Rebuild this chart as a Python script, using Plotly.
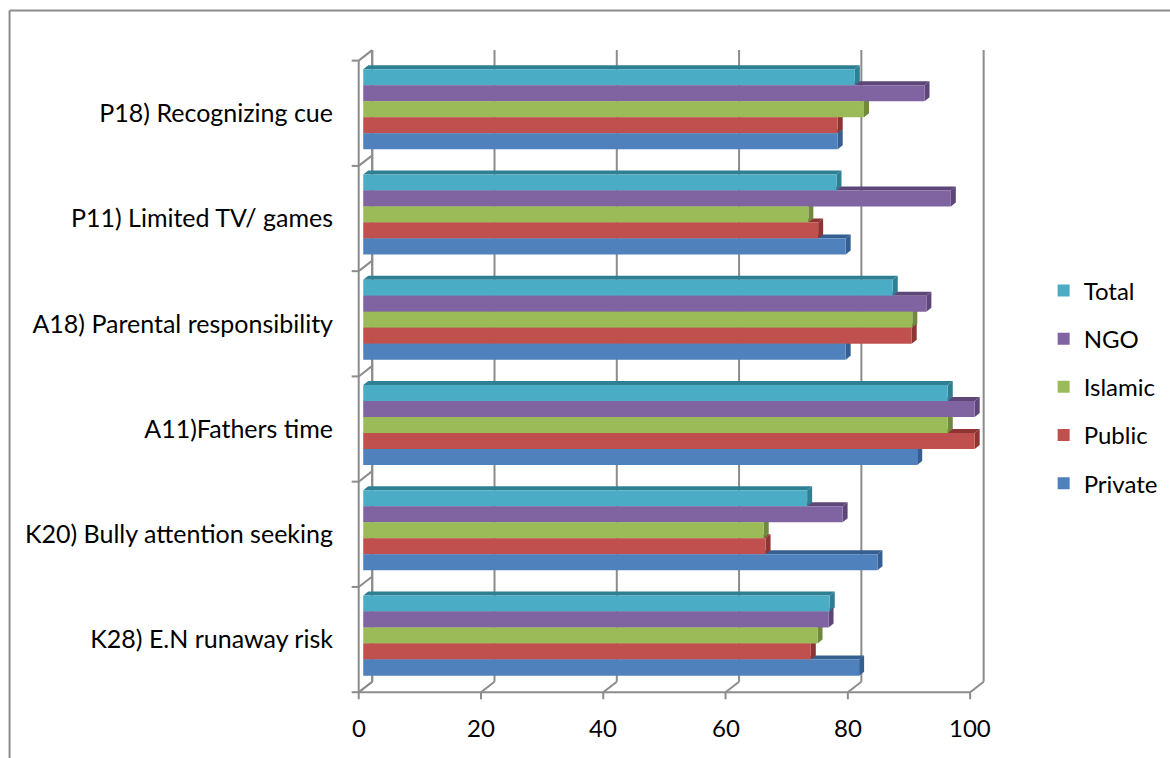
import plotly.graph_objects as go

# ---- data -------------------------------------------------------------
categories = [
    "P18) Recognizing cue",
    "P11) Limited TV/ games",
    "A18) Parental responsibility",
    "A11)Fathers time",
    "K20) Bully attention seeking",
    "K28) E.N runaway risk",
]
total = [80.4, 77.4, 86.6, 95.6, 72.6, 76.3]
ngo = [91.8, 96.1, 92.1, 100.0, 78.4, 76.1]
islamic = [81.9, 72.8, 89.8, 95.6, 65.5, 74.3]
public = [77.6, 74.4, 89.7, 100.0, 65.8, 73.2]
private = [77.6, 78.9, 78.9, 90.6, 84.1, 81.1]
x_ticks = [0, 20, 40, 60, 80, 100]

series_names = ["Total", "NGO", "Islamic", "Public", "Private"]
series_values = [total, ngo, islamic, public, private]
face_colors = ["#4BACC6", "#8064A2", "#9BBB59", "#C0504D", "#4F81BD"]
shade_colors = ["#2F7F93", "#5C4778", "#6F8A3C", "#8E3432", "#355F91"]

# ---- figure geometry ----------------------------------------------------
W, H = 1170, 758
PX0, PXU = 363.0, 6.12      # pixel of x=0 and pixels per value unit
PY0, PYU = 57.0, 105.17     # pixel of the top category edge and pixels per category
X_RANGE = [-2.0, 103.0]
Y_RANGE = [5.65, -0.62]     # reversed: first category on top

ml = PX0 + X_RANGE[0] * PXU
mr = W - (PX0 + X_RANGE[1] * PXU)
mt = PY0 + (Y_RANGE[1] + 0.5) * PYU
mb = H - (PY0 + (Y_RANGE[0] + 0.5) * PYU)
plot_w = W - ml - mr
plot_h = H - mt - mb

BARGAP = 0.239
GROUP_W = 1 - BARGAP
BAR_W = GROUP_W / len(series_names)

# 3-D depth of bars and walls, expressed in axis units
DX, DY = 0.82, 0.038
FDX, FDY = -0.74, 0.038     # front edge of walls
BDX, BDY = 1.47, -0.062     # back edge of walls
TICK_X, TICK_Y = 1.15, 0.067

LINE = dict(color="#8C8C8C", width=2)
FONT = "Lato, 'Open Sans', sans-serif"
FS = 24

fig = go.Figure()
for name, vals, col in zip(series_names, series_values, face_colors):
    fig.add_trace(go.Bar(
        name=name, y=categories, x=vals, orientation="h",
        marker=dict(color=col, line=dict(width=0)),
        legendgroup=name,
    ))

shapes = []


def seg(x0, y0, x1, y1):
    shapes.append(dict(type="line", xref="x", yref="y", x0=x0, y0=y0, x1=x1, y1=y1,
                       line=LINE, layer="below"))


# back wall gridlines
for g in x_ticks:
    seg(g + BDX, -0.5 + BDY, g + BDX, 5.5 + BDY)
# left wall
seg(FDX, -0.5 + FDY, FDX, 5.5 + FDY)
seg(BDX, -0.5 + BDY, BDX, 5.5 + BDY)
for k in range(len(categories) + 1):
    b = k - 0.5
    seg(FDX, b + FDY, BDX, b + BDY)
    seg(FDX - TICK_X, b + FDY, FDX, b + FDY)
# floor
seg(FDX, 5.5 + FDY, x_ticks[-1] + FDX, 5.5 + FDY)
for g in x_ticks:
    seg(g + FDX, 5.5 + FDY, g + BDX, 5.5 + BDY)
    seg(g + FDX, 5.5 + FDY, g + FDX, 5.5 + FDY + TICK_Y)

# bar top faces, then side faces
top_faces, side_faces = [], []
for i, (vals, shade) in enumerate(zip(series_values, shade_colors)):
    off = -GROUP_W / 2 + (i + 0.5) * BAR_W
    for c, v in enumerate(vals):
        yt = c + off - BAR_W / 2
        yb = c + off + BAR_W / 2
        top_faces.append(dict(
            type="path", xref="x", yref="y", layer="below",
            path=f"M0,{yt} L{v},{yt} L{v + DX},{yt - DY} L{DX},{yt - DY} Z",
            fillcolor=shade, line=dict(width=0)))
        side_faces.append(dict(
            type="path", xref="x", yref="y", layer="below",
            path=f"M{v},{yt} L{v + DX},{yt - DY} L{v + DX},{yb - DY} L{v},{yb} Z",
            fillcolor=shade, line=dict(width=0)))
shapes += top_faces + side_faces

# chart border: top and left edges (right and bottom lie beyond the page)
bx0 = (9 - ml) / plot_w
by1 = (H - mb - 11) / plot_h
by0 = (H - mb - H - 5) / plot_h
bx1 = (W + 5 - ml) / plot_w
border = dict(color="#8C8C8C", width=2)
shapes.append(dict(type="line", xref="paper", yref="paper", x0=bx0, x1=bx1, y0=by1, y1=by1,
                   line=border))
shapes.append(dict(type="line", xref="paper", yref="paper", x0=bx0, x1=bx0, y0=by0, y1=by1,
                   line=border))

annotations = []
for g in x_ticks:
    annotations.append(dict(
        x=g + FDX, y=5.5 + FDY, xref="x", yref="y", yshift=-35, text=str(g),
        showarrow=False, font=dict(family=FONT, size=FS, color="#000000"),
        xanchor="center", yanchor="middle"))

fig.update_layout(
    width=W, height=H, autosize=False,
    margin=dict(l=ml, r=mr, t=mt, b=mb, pad=0),
    paper_bgcolor="white", plot_bgcolor="rgba(0,0,0,0)",
    barmode="group", bargap=BARGAP, bargroupgap=0,
    font=dict(family=FONT, size=FS, color="#000000"),
    xaxis=dict(range=X_RANGE, visible=False, fixedrange=True),
    yaxis=dict(range=Y_RANGE, type="category", showgrid=False, zeroline=False,
               showline=False, ticks="", ticklabelstandoff=17, ticklabelshift=-4,
               tickfont=dict(family=FONT, size=25, color="#000000")),
    shapes=shapes,
    annotations=annotations,
    legend=dict(xref="container", yref="container", x=0.892, y=0.646,
                xanchor="left", yanchor="top", tracegroupgap=14,
                font=dict(family=FONT, size=FS, color="#000000"),
                bgcolor="rgba(0,0,0,0)"),
    showlegend=True,
)

fig.write_html("out.html")
